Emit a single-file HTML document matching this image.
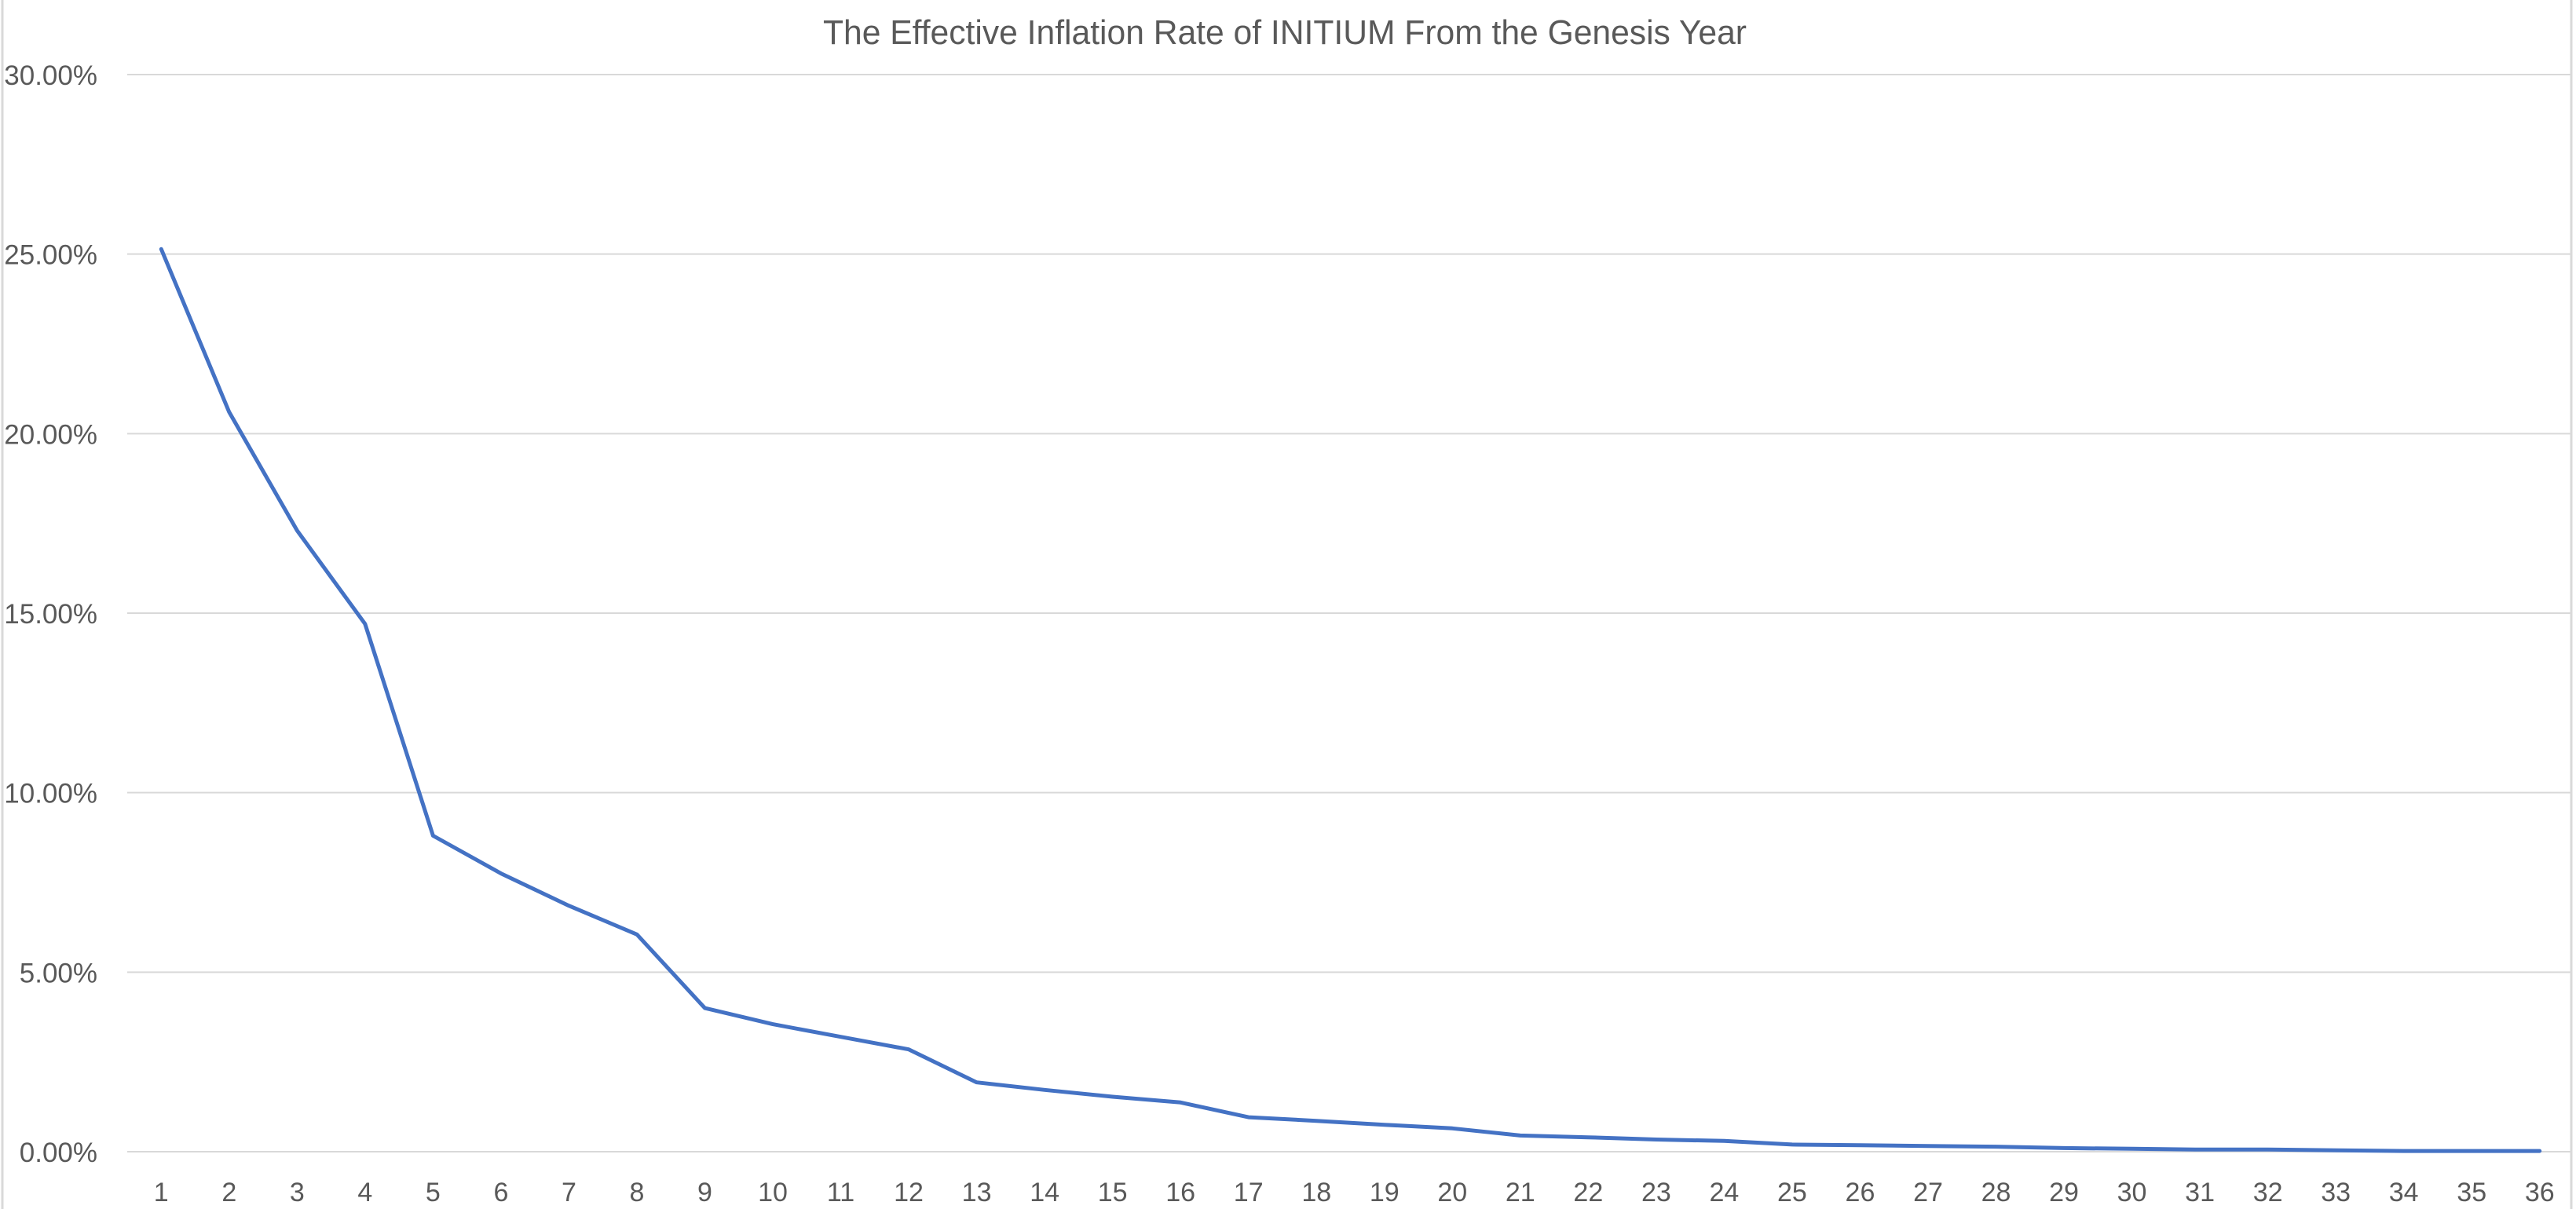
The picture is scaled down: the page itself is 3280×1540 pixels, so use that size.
<!DOCTYPE html>
<html><head><meta charset="utf-8"><style>
html,body{margin:0;padding:0;background:#fff;}
svg{display:block;font-family:"Liberation Sans",sans-serif;}
</style></head><body>
<svg id="chart" width="3280" height="1540" viewBox="0 0 3280 1540">
<rect x="0" y="0" width="3280" height="1540" fill="#fff"/>
<line x1="3" y1="0" x2="3" y2="1540" stroke="#d9d9d9" stroke-width="3"/>
<line x1="3274" y1="0" x2="3274" y2="1540" stroke="#d9d9d9" stroke-width="3"/>
<text x="1636" y="56" text-anchor="middle" font-size="44" fill="#595959" textLength="1176" lengthAdjust="spacingAndGlyphs">The Effective Inflation Rate of INITIUM From the Genesis Year</text>
<g id="grid"></g>
<g id="yticks"></g>
<g id="xticks"></g>
<g id="series"></g>
</svg>
<script>
const categories = [1,2,3,4,5,6,7,8,9,10,11,12,13,14,15,16,17,18,19,20,21,22,23,24,25,26,27,28,29,30,31,32,33,34,35,36];
const inflationValues = [25.14,20.6,17.3,14.7,8.8,7.75,6.85,6.05,4.0,3.55,3.2,2.85,1.93,1.72,1.53,1.37,0.96,0.86,0.75,0.65,0.45,0.4,0.34,0.3,0.2,0.18,0.16,0.14,0.1,0.08,0.06,0.06,0.04,0.02,0.02,0.02];
const yTickValues = [0,5,10,15,20,25,30];
const yTickLabels = ["0.00%","5.00%","10.00%","15.00%","20.00%","25.00%","30.00%"];

const NS = "http://www.w3.org/2000/svg";
const plotLeft = 162, plotRight = 3277, plotTop = 95, plotBottom = 1467, yMax = 30;
const step = (plotRight - plotLeft) / categories.length;
function xPos(i){ return plotLeft + step * (i + 0.5); }
function yPos(v){ return plotBottom - (v / yMax) * (plotBottom - plotTop); }
function mk(tag, attrs, parent){ const e = document.createElementNS(NS, tag); for (const k in attrs) e.setAttribute(k, attrs[k]); parent.appendChild(e); return e; }

const grid = document.getElementById('grid');
const yt = document.getElementById('yticks');
yTickValues.forEach((v, i) => {
  const y = yPos(v);
  const l = mk('line', {x1: plotLeft, x2: 3273, y1: y, y2: y, stroke: '#d9d9d9', 'stroke-width': 2}, grid);
  
  
  const t = mk('text', {x: 124, y: y + 13, 'text-anchor': 'end', 'font-size': 35, fill: '#595959'}, yt);
  t.textContent = yTickLabels[i];
  
  
});
const xt = document.getElementById('xticks');
categories.forEach((c, i) => {
  const t = mk('text', {x: xPos(i), y: 1530, 'text-anchor': 'middle', 'font-size': 34, fill: '#595959'}, xt);
  t.textContent = c;
  
  
});
const pts = inflationValues.map((v, i) => xPos(i).toFixed(1) + ',' + yPos(v).toFixed(1)).join(' ');
const line = mk('polyline', {points: pts, fill: 'none', stroke: '#4472c4', 'stroke-width': 5, 'stroke-linejoin': 'round', 'stroke-linecap': 'round'}, document.getElementById('series'));


</script>
</body></html>
